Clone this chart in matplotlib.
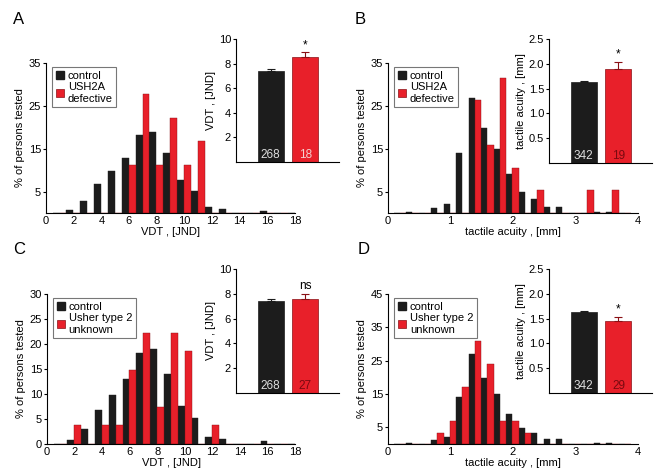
import numpy as np
import matplotlib.pyplot as plt

plt.rcParams['font.family'] = ['Liberation Sans', 'DejaVu Sans']
plt.rcParams['font.size'] = 8

RED = '#e8202a'
DARKRED = '#8a1015'
BLACK = '#1c1c1c'

# VDT histograms (% of persons tested), bins of 1 JND
vdt_bins = np.arange(1, 19)
vdt_control = [0, 0.7, 2.9, 6.8, 9.8, 12.9, 18.2, 18.9, 14.0, 7.6, 5.2, 1.3, 1.0, 0, 0, 0.5, 0, 0]
vdt_ush2a = [0, 0, 0, 0, 0, 11.1, 27.8, 11.1, 22.2, 11.1, 16.7, 0, 0, 0, 0, 0, 0, 0]
vdt_unknown = [0, 3.7, 0, 3.7, 3.7, 14.8, 22.2, 7.4, 22.2, 18.5, 0, 3.7, 0, 0, 0, 0, 0, 0]

# tactile acuity histograms, bins of 0.2 mm
ta_bins = np.round(np.arange(0.2, 4.0, 0.2), 1)
ta_control = [0, 0.3, 0, 1.2, 2.0, 14.1, 26.9, 19.9, 14.9, 9.1, 4.9, 3.2, 1.5, 1.5, 0, 0, 0.3, 0.3, 0]
ta_ush2a = [0, 0, 0, 0, 0, 0, 26.3, 15.8, 31.6, 10.5, 0, 5.3, 0, 0, 0, 5.3, 0, 5.3, 0]
ta_unknown = [0, 0, 0, 3.4, 6.9, 17.2, 31.0, 24.1, 6.9, 6.9, 3.4, 0, 0, 0, 0, 0, 0, 0, 0]

# inset means, s.e.m., group sizes
vdt_means = {'A': [7.43, 8.5], 'C': [7.43, 7.6]}
vdt_err = {'A': [0.11, 0.4], 'C': [0.11, 0.4]}
vdt_n = {'A': ['268', '18'], 'C': ['268', '27']}
ta_means = {'B': [1.64, 1.89], 'D': [1.64, 1.46]}
ta_err = {'B': [0.02, 0.14], 'D': [0.02, 0.07]}
ta_n = {'B': ['342', '19'], 'D': ['342', '29']}
signif = {'A': '*', 'B': '*', 'C': 'ns', 'D': '*'}
legend_labels = {'A': 'USH2A\ndefective', 'B': 'USH2A\ndefective',
                 'C': 'Usher type 2\nunknown', 'D': 'Usher type 2\nunknown'}

fig = plt.figure(figsize=(6.57, 4.74), dpi=100)

main_pos = {'A': [0.070, 0.5506, 0.379, 0.3165], 'B': [0.5906, 0.5506, 0.3805, 0.3165],
            'C': [0.0715, 0.0633, 0.378, 0.3165], 'D': [0.5906, 0.0633, 0.3805, 0.3165]}
inset_pos = {'A': [0.359, 0.658, 0.157, 0.26], 'B': [0.8356, 0.656, 0.157, 0.262],
             'C': [0.359, 0.171, 0.157, 0.2615], 'D': [0.8356, 0.171, 0.157, 0.2615]}
letter_pos = {'A': (0.020, 0.958), 'B': (0.540, 0.958), 'C': (0.020, 0.473), 'D': (0.544, 0.473)}


def style(ax):
    for s in ['top', 'right']:
        ax.spines[s].set_visible(False)
    ax.spines['left'].set_linewidth(0.8)
    ax.spines['bottom'].set_linewidth(0.8)
    ax.tick_params(axis='y', length=2.5, width=0.8, pad=1)
    ax.tick_params(axis='x', length=0, pad=2)


for key in ['A', 'B', 'C', 'D']:
    ax = fig.add_axes(main_pos[key])
    style(ax)
    if key in ('A', 'C'):
        ctrl = vdt_control
        other = vdt_ush2a if key == 'A' else vdt_unknown
        x = vdt_bins
        w = 0.5
        ax.bar(x - 0.27, ctrl, width=w, color=BLACK, edgecolor=BLACK, linewidth=0.3)
        ax.bar(x + 0.23, other, width=w, color=RED, edgecolor=DARKRED, linewidth=0.3)
        ax.set_xlim(0, 18)
        ax.set_xticks(range(0, 19, 2))
        ax.set_xlabel('VDT , [JND]', labelpad=1)
    else:
        ctrl = ta_control
        other = ta_ush2a if key == 'B' else ta_unknown
        x = ta_bins
        w = 0.1
        ax.bar(x - 0.06, ctrl, width=w, color=BLACK, edgecolor=BLACK, linewidth=0.3)
        ax.bar(x + 0.04, other, width=w, color=RED, edgecolor=DARKRED, linewidth=0.3)
        ax.set_xlim(0, 4)
        ax.set_xticks(range(0, 5))
        ax.set_xlabel('tactile acuity , [mm]', labelpad=1)
    if key in ('A', 'B'):
        ax.set_ylim(0, 35)
        ax.set_yticks([5, 15, 25, 35])
    elif key == 'C':
        ax.set_ylim(0, 30)
        ax.set_yticks(range(0, 31, 5))
    else:
        ax.set_ylim(0, 45)
        ax.set_yticks([5, 15, 25, 35, 45])
    ax.set_ylabel('% of persons tested', labelpad=3)
    h1 = plt.Rectangle((0, 0), 1, 1, color=BLACK)
    h2 = plt.Rectangle((0, 0), 1, 1, facecolor=RED, edgecolor=DARKRED, linewidth=0.5)
    leg = ax.legend([h1, h2], ['control', legend_labels[key]], loc='upper left',
                    bbox_to_anchor=(0.025, 0.97), fancybox=False, handlelength=0.8,
                    handleheight=0.8, handletextpad=0.3, borderpad=0.3,
                    labelspacing=0.1, borderaxespad=0, fontsize=8)
    leg.get_frame().set_edgecolor('#555555')
    leg.get_frame().set_linewidth(0.8)

    # inset mean bars
    ins = fig.add_axes(inset_pos[key])
    style(ins)
    if key in ('A', 'C'):
        means, errs, ns = vdt_means[key], vdt_err[key], vdt_n[key]
        ins.set_ylim(0, 10)
        ins.set_yticks([2, 4, 6, 8, 10])
        ins.set_ylabel('VDT , [JND]', labelpad=2)
        step = 0.4
    else:
        means, errs, ns = ta_means[key], ta_err[key], ta_n[key]
        ins.set_ylim(0, 2.5)
        ins.set_yticks([0.5, 1.0, 1.5, 2.0, 2.5])
        ins.set_yticklabels(['0.5', '1.0', '1.5', '2.0', '2.5'])
        ins.set_ylabel('tactile acuity , [mm]', labelpad=2)
        step = 0.1
    ins.bar([0, 1], means, width=0.75, color=[BLACK, RED],
            edgecolor=[BLACK, DARKRED], linewidth=0.5)
    for i, c in enumerate([BLACK, DARKRED]):
        ins.errorbar(i, means[i], yerr=[[0], [errs[i]]], fmt='none', ecolor=c,
                     elinewidth=0.8, capsize=3, capthick=0.8)
    ins.set_xlim(-1, 1.97)
    ins.set_xticks([])
    ncol = ['#dddddd', '#f3d0d0' if key == 'A' else '#7a0a10']
    for i in range(2):
        ins.text(i, step * 0.25, ns[i], ha='center', va='bottom', color=ncol[i], fontsize=8.5)
    ins.text(1, means[1] + errs[1] + step * 0.3, signif[key], ha='center', va='bottom', fontsize=8.5)

    fig.text(letter_pos[key][0], letter_pos[key][1], key, fontsize=12, va='center')

fig.savefig('out.png', dpi=100)
